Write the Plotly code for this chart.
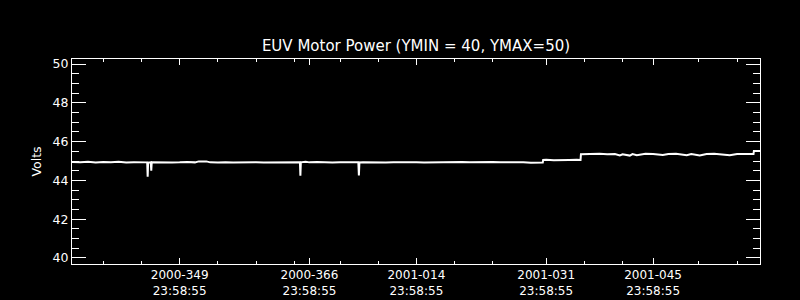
import pandas as pd
import plotly.graph_objects as go

# ---- data (day number counted from 2000-001; 2001 days continue after 366) ----
day_number = [
    335.90, 337.00, 338.00, 339.00, 340.00, 341.00, 342.00, 343.00, 344.00, 345.00,
    345.75, 345.81, 345.87, 346.22, 346.28, 346.34, 347.00, 348.00, 349.00, 350.00,
    351.00, 352.00, 352.50, 353.50, 354.00, 355.00, 356.00, 357.00, 358.00, 359.00,
    360.00, 361.00, 362.00, 363.00, 364.00, 365.00, 365.75, 365.81, 365.87, 366.50,
    367.00, 368.00, 369.00, 370.00, 371.00, 372.00, 373.00, 373.40, 373.47, 373.54,
    374.00, 375.00, 376.00, 377.00, 378.00, 379.00, 380.00, 381.00, 382.00, 383.00,
    384.00, 385.00, 386.00, 387.00, 388.00, 389.00, 390.00, 391.00, 392.00, 393.00,
    394.00, 395.00, 396.00, 397.00, 397.55, 397.60, 398.00, 399.00, 400.00, 401.00,
    402.00, 402.50, 402.55, 403.00, 404.00, 405.00, 406.00, 407.00, 407.64, 408.00,
    408.95, 409.30, 409.86, 410.50, 411.00, 412.00, 413.27, 414.00, 415.00, 416.41,
    417.00, 418.11, 419.00, 420.00, 421.00, 422.04, 423.00, 424.00, 425.15, 425.20,
    426.00,
]
volts = [
    44.95, 44.93, 44.96, 44.92, 44.95, 44.93, 44.96, 44.92, 44.94, 44.93,
    44.93, 44.19, 44.92, 44.93, 44.50, 44.93, 44.92, 44.94, 44.92, 44.93,
    44.95, 44.93, 44.98, 44.98, 44.93, 44.92, 44.94, 44.92, 44.93, 44.92,
    44.94, 44.92, 44.93, 44.92, 44.94, 44.93, 44.94, 44.24, 44.93, 44.96,
    44.93, 44.95, 44.93, 44.92, 44.93, 44.94, 44.93, 44.93, 44.26, 44.92,
    44.93, 44.92, 44.93, 44.92, 44.93, 44.94, 44.92, 44.93, 44.92, 44.93,
    44.94, 44.92, 44.93, 44.95, 44.93, 44.94, 44.93, 44.95, 44.93, 44.94,
    44.92, 44.93, 44.91, 44.92, 44.92, 45.05, 45.06, 45.04, 45.06, 45.05,
    45.06, 45.05, 45.35, 45.36, 45.35, 45.37, 45.35, 45.36, 45.29, 45.35,
    45.28, 45.36, 45.30, 45.36, 45.37, 45.36, 45.31, 45.36, 45.37, 45.30,
    45.36, 45.29, 45.36, 45.37, 45.35, 45.30, 45.36, 45.37, 45.36, 45.52,
    45.52,
]

tick_dates = ["2000-349", "2000-366", "2001-014", "2001-031", "2001-045"]
tick_time = "23:58:55"
minor_day_numbers = [339, 344, 354, 359, 364, 370, 375, 385, 390, 402, 407, 417, 422]
x_range_days = [335.90, 426.00]
y_range = [39.69, 50.26]

title_text = "EUV Motor Power (YMIN = 40, YMAX=50)"
y_title = "Volts"

BASE = pd.Timestamp("2000-01-01")


def to_time(d):
    return BASE + pd.to_timedelta(d - 1, unit="D")


x_time = [to_time(d) for d in day_number]
major_vals = [pd.to_datetime(f"{s} {tick_time}", format="%Y-%j %H:%M:%S") for s in tick_dates]
major_text = [f"{s}<br>{tick_time}" for s in tick_dates]
minor_vals = [to_time(d + 0.999) for d in minor_day_numbers]

fig = go.Figure()
fig.add_trace(go.Scatter(
    x=x_time, y=volts, mode="lines",
    line=dict(color="white", width=2),
    hoverinfo="skip", showlegend=False,
))

font_family = "DejaVu Sans"
fig.update_layout(
    width=800, height=300,
    paper_bgcolor="black", plot_bgcolor="black",
    margin=dict(l=72, r=40, t=59, b=36, pad=0, autoexpand=False),
    font=dict(family=font_family, color="white", size=13),
    title=dict(text=title_text, x=0.5, xref="paper", xanchor="center",
               y=1 - 46 / 300, yref="container", yanchor="middle",
               font=dict(size=15, color="white", family=font_family)),
    showlegend=False,
)
fig.update_xaxes(
    type="date", automargin=False,
    range=[to_time(x_range_days[0]), to_time(x_range_days[1])],
    tickmode="array", tickvals=major_vals, ticktext=major_text,
    ticks="inside", ticklen=6, tickwidth=1, tickcolor="white",
    minor=dict(tickmode="array", tickvals=minor_vals, ticks="inside",
               ticklen=3, tickwidth=1, tickcolor="white", showgrid=False),
    showline=True, linecolor="white", linewidth=1, mirror="ticks",
    showgrid=False, zeroline=False,
    tickfont=dict(size=12, color="white", family=font_family),
)
fig.update_yaxes(
    automargin=False,
    range=y_range,
    tickmode="linear", tick0=40, dtick=2,
    ticks="inside", ticklen=14, tickwidth=1, tickcolor="white",
    minor=dict(tickmode="linear", tick0=40, dtick=0.5, ticks="inside",
               ticklen=7, tickwidth=1, tickcolor="white", showgrid=False),
    showline=True, linecolor="white", linewidth=1, mirror="ticks",
    showgrid=False, zeroline=False,
    tickfont=dict(size=12.5, color="white", family=font_family),
)
fig.add_annotation(
    text=y_title, textangle=-90, showarrow=False,
    xref="paper", yref="paper", x=(36 - 72) / 688, y=0.5,
    xanchor="center", yanchor="middle",
    font=dict(size=12.5, color="white", family=font_family),
)

fig.write_html("out.html")
